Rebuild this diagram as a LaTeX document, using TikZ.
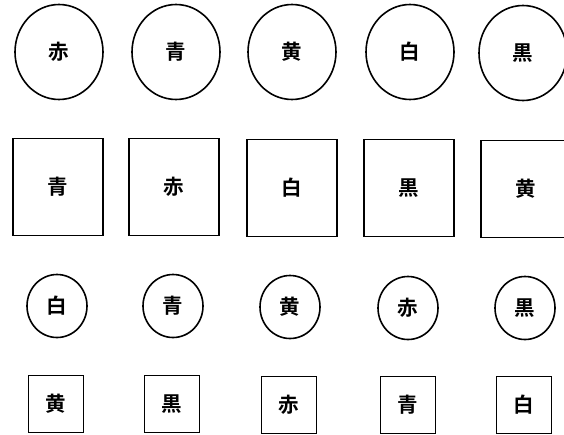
\documentclass[tikz,border=0pt]{standalone}
\usepackage{fontspec}
\newfontfamily\cjk{Noto Sans CJK JP}[BoldFont={* Bold}]
\usetikzlibrary{shapes.geometric}
\tikzset{
  lbl/.style={font=\cjk\bfseries\fontsize{20.5pt}{20.5pt}\selectfont, inner sep=0pt, line width=1.6pt, draw=black},
  bigcirc/.style={lbl, ellipse, minimum width=88pt, minimum height=95pt},
  bigsq/.style={lbl, rectangle, minimum width=90pt, minimum height=97pt},
  smallcirc/.style={lbl, ellipse, minimum width=60pt, minimum height=63pt},
  smallsq/.style={lbl, rectangle, minimum width=55pt, minimum height=57pt}
}
\begin{document}
\begin{tikzpicture}[x=1pt,y=-1pt]
\useasboundingbox (0,0) rectangle (564,434);
% row 1
\node[bigcirc] (c11) at (59,52) {赤};
\node[bigcirc] (c12) at (176,52) {青};
\node[bigcirc] (c13) at (292,52) {黄};
\node[bigcirc] (c14) at (410,52) {白};
\node[bigcirc] (c15) at (523,53) {黒};
% row 2
\node[bigsq] (s21) at (58,187) {青};
\node[bigsq] (s22) at (174,187) {赤};
\node[bigsq] (s23) at (292,188) {白};
\node[bigsq] (s24) at (409,188) {黒};
\node[bigsq] (s25) at (526,189) {黄};
% row 3
\node[smallcirc] (c31) at (57,306) {白};
\node[smallcirc] (c32) at (173,306) {青};
\node[smallcirc] (c33) at (290,307) {黄};
\node[smallcirc] (c34) at (408,308) {赤};
\node[smallcirc] (c35) at (525,308) {黒};
% row 4
\node[smallsq] (s41) at (56,404) {黄};
\node[smallsq] (s42) at (172,404) {黒};
\node[smallsq] (s43) at (289,405) {赤};
\node[smallsq] (s44) at (408,405) {青};
\node[smallsq] (s45) at (524,405) {白};
\end{tikzpicture}
\end{document}
